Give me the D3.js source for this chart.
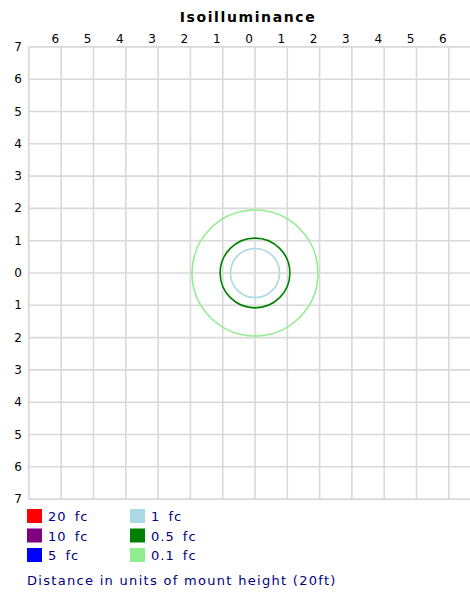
<!DOCTYPE html>
<html>
<head>
<meta charset="utf-8">
<script src="https://cdn.jsdelivr.net/npm/d3@7"></script>
<style>
  body { margin: 0; background: #fff; }
  text { font-family: "DejaVu Sans", Verdana, sans-serif; }
</style>
</head>
<body>
<div id="chart"></div>
<script>
'use strict';

// axis ticks, in units of mount height
let xTicks = [-6, -5, -4, -3, -2, -1, 0, 1, 2, 3, 4, 5, 6];
let yTicks = [7, 6, 5, 4, 3, 2, 1, 0, -1, -2, -3, -4, -5, -6, -7];

// isolines: level label and radius (units of mount height)
let levelLabels = ["20 fc", "10 fc", "5 fc", "1 fc", "0.5 fc", "0.1 fc"];
let levelColors = ["#ff0000", "#800080", "#0000ff", "#add8e6", "#008000", "#90ee90"];
let contourLevels = ["0.1 fc", "0.5 fc", "1 fc"];
let contourRadii = [1.95, 1.08, 0.76];

let width = 470, height = 596;
let unit = 32.3;
let cx = 255, cy = 273;

let x = d3.scaleLinear().domain([-7, 7]).range([cx - 7 * unit, cx + 7 * unit]);
let y = d3.scaleLinear().domain([-7, 7]).range([cy + 7 * unit, cy - 7 * unit]);

let svg = d3.select("#chart").append("svg")
    .attr("width", width)
    .attr("height", height);

svg.append("text")
    .attr("x", 248).attr("y", 22)
    .attr("text-anchor", "middle")
    .style("font-weight", "bold")
    .style("font-size", "14px")
    .style("letter-spacing", "1.6px")
    .text("Isoilluminance");

let grid = svg.append("g").attr("stroke", "#d9d9d9").attr("stroke-width", 1.6);

grid.selectAll(".vl")
    .data(d3.range(-7, 8))
    .enter().append("line")
        .attr("x1", function(d) { return x(d); })
        .attr("x2", function(d) { return x(d); })
        .attr("y1", y(7)).attr("y2", y(-7));

grid.selectAll(".hl")
    .data(d3.range(-7, 8))
    .enter().append("line")
        .attr("y1", function(d) { return y(d); })
        .attr("y2", function(d) { return y(d); })
        .attr("x1", x(-7)).attr("x2", x(7));

// top tick labels (sit a bit left of their gridline)
svg.selectAll(".xt")
    .data(xTicks)
    .enter().append("text")
        .attr("x", function(d) { return x(d) - 6; })
        .attr("y", 43)
        .attr("text-anchor", "middle")
        .style("font-size", "12px")
        .text(function(d) { return Math.abs(d); });

svg.selectAll(".yt")
    .data(yTicks)
    .enter().append("text")
        .attr("x", 22)
        .attr("y", function(d) { return y(d) + 4; })
        .attr("text-anchor", "end")
        .style("font-size", "12px")
        .text(function(d) { return Math.abs(d); });

// contours
let color = d3.scaleOrdinal().domain(levelLabels).range(levelColors);

svg.selectAll(".contour")
    .data(contourLevels)
    .enter().append("circle")
        .attr("class", "contour")
        .attr("cx", x(0))
        .attr("cy", y(0))
        .attr("r", function(d, i) { return x(contourRadii[i]) - x(0); })
        .attr("fill", "none")
        .attr("stroke", function(d) { return color(d); })
        .attr("stroke-width", 1.6);

// legend
let legend = svg.selectAll(".lg")
    .data(levelLabels)
    .enter().append("g")
        .attr("transform", function(d, i) {
            return "translate(" + (27 + Math.floor(i / 3) * 103) + "," + (509 + (i % 3) * 19.5) + ")";
        });

legend.append("rect")
    .attr("width", 15).attr("height", 14)
    .attr("fill", function(d) { return color(d); });

legend.append("text")
    .attr("x", 21).attr("y", 12)
    .style("font-size", "13px")
    .style("letter-spacing", "1px")
    .style("word-spacing", "3px")
    .attr("fill", "#000080")
    .text(function(d) { return d; });

svg.append("text")
    .attr("x", 27).attr("y", 585)
    .style("font-size", "13px")
    .style("letter-spacing", "1.3px")
    .attr("fill", "#000080")
    .text("Distance in units of mount height (20ft)");
</script>
</body>
</html>
